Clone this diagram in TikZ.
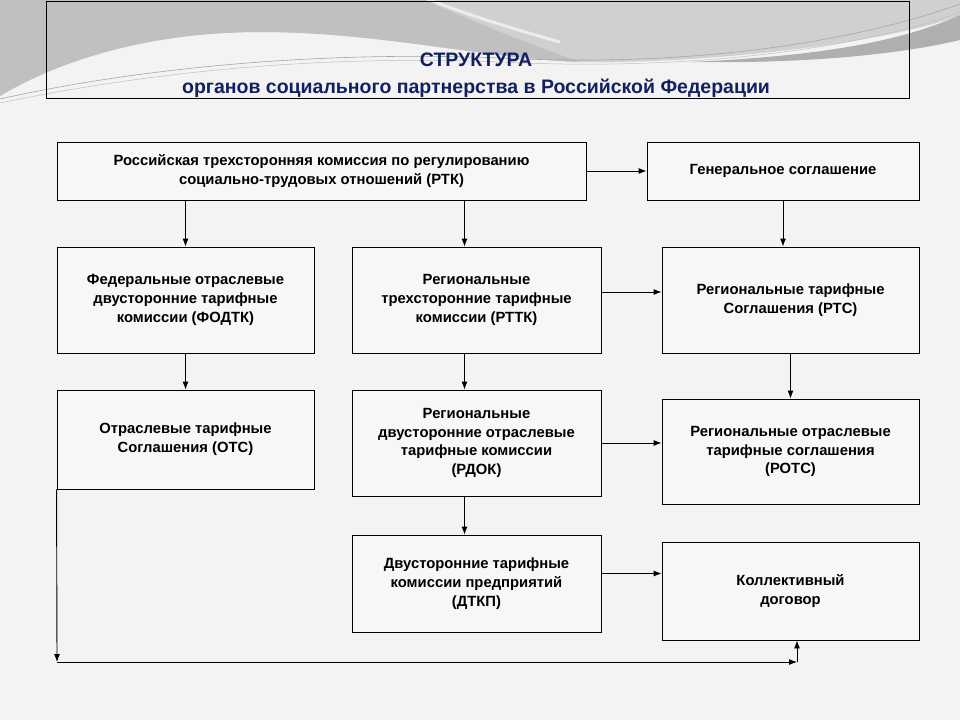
\documentclass[tikz,border=0pt]{standalone}
\usepackage{fontspec}
\setmainfont{Liberation Sans}
\usetikzlibrary{arrows.meta}
\definecolor{bgpage}{RGB}{243,243,243}
\definecolor{boxfill}{RGB}{247,247,247}
\definecolor{wavemid}{RGB}{208,208,208}
\definecolor{wavedark}{RGB}{192,192,192}
\definecolor{waveband}{RGB}{175,175,175}
\definecolor{titleblue}{RGB}{16,32,96}
\tikzset{
  orgbox/.style={draw=black, line width=0.9pt, fill=boxfill, align=center,
    inner sep=2pt, font=\fontsize{14.8}{18.8}\selectfont\bfseries},
  link/.style={->, line width=0.9pt},
}
\begin{document}
\begin{tikzpicture}[x=1pt, y=-1pt, >={Latex[length=8pt,width=6pt]}]
\useasboundingbox (0,0) rectangle (960,720);
% background and grey wave
\fill[bgpage] (0,0) rectangle (960,720);
\fill[wavemid] (0,0) -- (960,0) -- (960,15) .. controls (900,40) and (720,64) .. (580,62)
  .. controls (480,58) and (380,32) .. (260,32) .. controls (150,32) and (60,60) .. (0,96) -- cycle;
\fill[wavedark] (0,0) -- (425,0) .. controls (470,20) and (530,45) .. (580,62)
  .. controls (480,58) and (380,32) .. (260,32) .. controls (150,32) and (60,60) .. (0,96) -- cycle;
\draw[white, line width=3pt, opacity=.6] (425,-2) .. controls (465,14) and (510,28) .. (560,42);
\fill[waveband] (960,15) .. controls (900,42) and (820,56) .. (690,62)
  .. controls (820,64) and (910,52) .. (960,40) -- cycle;
\draw[gray!70, line width=.6pt] (0,99) .. controls (120,72) and (300,50) .. (500,58)
  .. controls (700,68) and (860,40) .. (960,4);
\draw[gray!50, line width=.5pt] (0,103) .. controls (130,76) and (300,54) .. (500,62)
  .. controls (700,72) and (870,46) .. (960,12);
% title
\node[draw=black, line width=0.9pt, minimum width=863, minimum height=97, inner sep=0pt]
  (frame) at (477.5,49.5) {};
\node[font=\fontsize{19.5}{27}\selectfont\bfseries, text=titleblue, align=center]
  (title) at (476,75) {СТРУКТУРА\\органов социального партнерства в Российской Федерации};
% boxes
\node[orgbox, minimum width=529, minimum height=58] (rtk) at (321.5,171)
  {Российская трехсторонняя комиссия по регулированию\\социально-трудовых отношений (РТК)};
\node[orgbox, minimum width=272, minimum height=58] (gen) at (783,171)
  {Генеральное соглашение};
\node[orgbox, minimum width=257, minimum height=106] (fodtk) at (185.5,300)
  {Федеральные отраслевые\\двусторонние тарифные\\комиссии (ФОДТК)};
\node[orgbox, minimum width=249, minimum height=106] (rttk) at (476.5,300)
  {Региональные\\трехсторонние тарифные\\комиссии (РТТК)};
\node[orgbox, minimum width=257, minimum height=106] (rts) at (790.5,300)
  {Региональные тарифные\\Соглашения (РТС)};
\node[orgbox, minimum width=257, minimum height=99] (ots) at (185.5,439.5)
  {Отраслевые тарифные\\Соглашения (ОТС)};
\node[orgbox, minimum width=249, minimum height=106] (rdok) at (476.5,443)
  {Региональные\\двусторонние отраслевые\\тарифные комиссии\\(РДОК)};
\node[orgbox, minimum width=257, minimum height=105] (rots) at (790.5,451.5)
  {Региональные отраслевые\\тарифные соглашения\\(РОТС)};
\node[orgbox, minimum width=249, minimum height=97] (dtkp) at (476.5,583.5)
  {Двусторонние тарифные\\комиссии предприятий\\(ДТКП)};
\node[orgbox, minimum width=257, minimum height=98] (kd) at (790.5,591)
  {Коллективный\\договор};
% connectors
\draw[link] (rtk.east) -- (gen.west);
\draw[link] (fodtk.north |- rtk.south) -- (fodtk.north);
\draw[link] ([xshift=-12pt]rttk.north |- rtk.south) -- ([xshift=-12pt]rttk.north);
\draw[link] (gen.south) -- (gen.south |- rts.north);
\draw[link] ([yshift=8pt]rttk.east) -- ([yshift=8pt]rttk.east -| rts.west);
\draw[link] (fodtk.south) -- (ots.north);
\draw[link] ([xshift=-12pt]rttk.south) -- ([xshift=-12pt]rdok.north);
\draw[link] (rts.south) -- (rts.south |- rots.north);
\draw[link] (rdok.east) -- (rdok.east -| rots.west);
\draw[link] ([xshift=-12pt]rdok.south) -- ([xshift=-12pt]dtkp.north);
\draw[link] ([yshift=10pt]dtkp.east) -- ([yshift=10pt]dtkp.east -| kd.west);
\coordinate (bl) at (57,662);
\coordinate (br) at (797,662);
\draw[link] (ots.south west) -- (bl);
\draw[link] (bl) -- (br);
\draw[link] (br) -- (br |- kd.south);
\end{tikzpicture}
\end{document}
